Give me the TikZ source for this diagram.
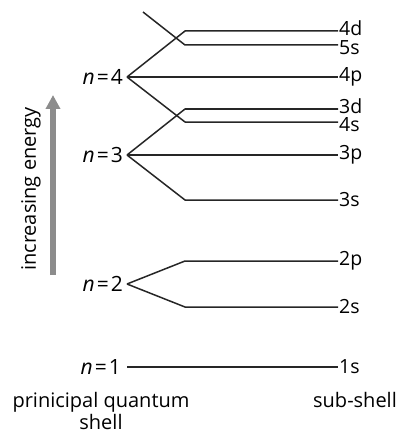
\documentclass[tikz,border=0pt]{standalone}
\usepackage{fontspec}
\setmainfont{Open Sans}
\usetikzlibrary{arrows.meta}
\newcommand{\shn}[1]{\textit{n}\kern2pt=\kern2pt#1}
\begin{document}
\begin{tikzpicture}[x=1pt,y=-1pt,
  lvl/.style={draw=black!85,line width=1.5pt,line join=round},
  sub/.style={anchor=west,inner xsep=1pt,inner ysep=0pt,font=\fontsize{19.5}{19.5}\selectfont},
  shl/.style={anchor=east,inner sep=1pt,font=\fontsize{21}{21}\selectfont},
  captext/.style={font=\fontsize{20}{22}\selectfont,align=center,inner sep=0pt}]
\useasboundingbox (0,0) rectangle (401,433);
% shell vertices
\coordinate (v4) at (127,77);
\coordinate (v3) at (127,155);
\coordinate (v2) at (127,284);
\coordinate (v1) at (127,367);
\coordinate (top5) at (143,12);
% sub-shell line ends
\coordinate (e4d) at (338,31);
\coordinate (e5s) at (338,45);
\coordinate (e4p) at (338,77);
\coordinate (e3d) at (338,109);
\coordinate (e4s) at (338,122);
\coordinate (e3p) at (338,155);
\coordinate (e3s) at (338,200);
\coordinate (e2p) at (338,261);
\coordinate (e2s) at (338,307);
\coordinate (e1s) at (338,367);
% shell labels
\node[shl] (n4) at (124,77) {\shn{4}};
\node[shl] (n3) at (124,155) {\shn{3}};
\node[shl] (n2) at (124,284) {\shn{2}};
\node[shl] (n1) at (122,367) {\shn{1}};
% sub-shell labels
\node[sub,yshift=3pt] (s4d) at (e4d) {4d};
\node[sub,yshift=-3pt] (s5s) at (e5s) {5s};
\node[sub] (s4p) at (e4p) {4p};
\node[sub,yshift=3pt] (s3d) at (e3d) {3d};
\node[sub,yshift=-3pt] (s4s) at (e4s) {4s};
\node[sub] (s3p) at (e3p) {3p};
\node[sub] (s3s) at (e3s) {3s};
\node[sub] (s2p) at (e2p) {2p};
\node[sub] (s2s) at (e2s) {2s};
\node[sub] (s1s) at (e1s) {1s};
% connectors
\draw[lvl] (top5) -- (185,45) -- (e5s);
\draw[lvl] (v4) -- (185,31) -- (e4d);
\draw[lvl] (v4) -- (e4p);
\draw[lvl] (v4) -- (185,122) -- (e4s);
\draw[lvl] (v3) -- (185,109) -- (e3d);
\draw[lvl] (v3) -- (e3p);
\draw[lvl] (v3) -- (185,200) -- (e3s);
\draw[lvl] (v2) -- (185,261) -- (e2p);
\draw[lvl] (v2) -- (185,307) -- (e2s);
\draw[lvl] (v1) -- (e1s);
% energy arrow
\coordinate (ea) at (53,275);
\coordinate (eb) at (53,95);
\draw[draw=black!45,line width=6pt,-{Triangle[length=14pt,width=14pt]}] (ea) -- (eb);
\node[rotate=90,inner sep=0pt,font=\fontsize{20}{20}\selectfont] (inc) at (31,189) {increasing energy};
% captions
\node[captext] (pqs) at (101,411) {prinicipal quantum\\shell};
\node[captext] (ssh) at (355,400) {sub-shell};
\end{tikzpicture}
\end{document}
